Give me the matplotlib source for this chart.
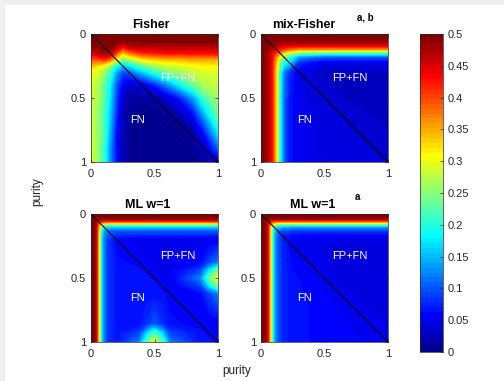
"""
Four error maps (Fisher, mix-Fisher, ML w=1) over purity x purity,
drawn as filled contours with a 64-colour jet map and a shared colourbar.
"""

import numpy as np
import matplotlib
matplotlib.use('Agg')
import matplotlib.pyplot as plt
from matplotlib.colors import ListedColormap, Normalize
from matplotlib.patches import Rectangle
from matplotlib.cm import ScalarMappable

plt.rcParams['font.family'] = ['Liberation Sans', 'DejaVu Sans']

# ---------------------------------------------------------------
# Data: values on a coarse (non-uniform) grid
# rows = purity on the vertical axis, columns = purity on the horizontal
# ---------------------------------------------------------------
fisher_nodes = [0, 0.05, 0.1, 0.15, 0.2, 0.25, 0.3, 0.4, 0.5, 0.6, 0.7, 0.8, 0.9, 1.0]
fisher_values = [
    [0.50, 0.50, 0.50, 0.50, 0.50, 0.50, 0.50, 0.50, 0.50, 0.50, 0.50, 0.50, 0.50, 0.50],
    [0.50, 0.50, 0.50, 0.50, 0.50, 0.49, 0.50, 0.50, 0.50, 0.50, 0.50, 0.50, 0.50, 0.50],
    [0.49, 0.49, 0.50, 0.50, 0.47, 0.43, 0.46, 0.47, 0.47, 0.47, 0.47, 0.47, 0.47, 0.47],
    [0.45, 0.46, 0.48, 0.47, 0.40, 0.33, 0.37, 0.41, 0.42, 0.43, 0.43, 0.43, 0.43, 0.43],
    [0.39, 0.39, 0.41, 0.38, 0.30, 0.24, 0.26, 0.31, 0.33, 0.34, 0.34, 0.35, 0.35, 0.35],
    [0.34, 0.32, 0.30, 0.25, 0.19, 0.15, 0.17, 0.22, 0.26, 0.28, 0.29, 0.30, 0.31, 0.31],
    [0.30, 0.29, 0.26, 0.21, 0.14, 0.09, 0.10, 0.15, 0.20, 0.24, 0.26, 0.28, 0.29, 0.29],
    [0.29, 0.27, 0.23, 0.18, 0.10, 0.05, 0.03, 0.04, 0.07, 0.12, 0.18, 0.23, 0.27, 0.28],
    [0.28, 0.27, 0.23, 0.17, 0.09, 0.03, 0.012, 0.008, 0.015, 0.035, 0.07, 0.13, 0.22, 0.26],
    [0.28, 0.26, 0.22, 0.16, 0.08, 0.025, 0.01, 0.005, 0.005, 0.01, 0.03, 0.07, 0.17, 0.24],
    [0.28, 0.26, 0.22, 0.15, 0.07, 0.02, 0.008, 0.005, 0.005, 0.005, 0.008, 0.03, 0.11, 0.21],
    [0.28, 0.26, 0.22, 0.14, 0.06, 0.02, 0.008, 0.005, 0.005, 0.005, 0.005, 0.01, 0.06, 0.16],
    [0.28, 0.26, 0.21, 0.13, 0.06, 0.02, 0.008, 0.005, 0.005, 0.005, 0.005, 0.005, 0.03, 0.10],
    [0.28, 0.26, 0.21, 0.13, 0.06, 0.02, 0.008, 0.005, 0.005, 0.005, 0.005, 0.005, 0.01, 0.03],
]

mix_nodes = [0, 0.03, 0.06, 0.09, 0.12, 0.15, 0.18, 0.22, 0.3, 0.5, 0.7, 1.0]
mix_values = [
    [0.50, 0.50, 0.50, 0.50, 0.50, 0.50, 0.50, 0.50, 0.50, 0.50, 0.50, 0.50],
    [0.50, 0.50, 0.50, 0.50, 0.50, 0.50, 0.50, 0.50, 0.50, 0.50, 0.50, 0.50],
    [0.50, 0.50, 0.50, 0.49, 0.49, 0.49, 0.48, 0.48, 0.48, 0.48, 0.48, 0.48],
    [0.50, 0.50, 0.49, 0.48, 0.47, 0.46, 0.45, 0.45, 0.44, 0.44, 0.44, 0.44],
    [0.50, 0.50, 0.48, 0.46, 0.44, 0.42, 0.40, 0.38, 0.36, 0.36, 0.36, 0.36],
    [0.50, 0.49, 0.47, 0.44, 0.40, 0.36, 0.32, 0.28, 0.23, 0.21, 0.21, 0.21],
    [0.50, 0.49, 0.47, 0.43, 0.36, 0.30, 0.25, 0.20, 0.13, 0.10, 0.10, 0.10],
    [0.50, 0.49, 0.47, 0.42, 0.34, 0.24, 0.20, 0.17, 0.08, 0.05, 0.05, 0.05],
    [0.50, 0.49, 0.47, 0.42, 0.32, 0.20, 0.12, 0.08, 0.045, 0.03, 0.03, 0.03],
    [0.50, 0.49, 0.47, 0.42, 0.32, 0.19, 0.11, 0.07, 0.05, 0.038, 0.03, 0.03],
    [0.50, 0.49, 0.47, 0.42, 0.32, 0.19, 0.11, 0.07, 0.05, 0.045, 0.038, 0.03],
    [0.50, 0.49, 0.47, 0.42, 0.32, 0.19, 0.11, 0.07, 0.05, 0.045, 0.045, 0.038],
]

ml_nodes = [0, 0.02, 0.04, 0.06, 0.08, 0.1, 0.13, 0.2, 0.38, 0.44, 0.5, 0.56, 0.62, 0.86, 0.93, 1.0]
ml_values = [
    [0.50, 0.50, 0.50, 0.50, 0.50, 0.50, 0.50, 0.50, 0.50, 0.50, 0.50, 0.50, 0.50, 0.50, 0.50, 0.50],
    [0.50, 0.50, 0.50, 0.50, 0.50, 0.50, 0.50, 0.50, 0.50, 0.50, 0.50, 0.50, 0.50, 0.50, 0.50, 0.50],
    [0.50, 0.50, 0.49, 0.48, 0.48, 0.48, 0.48, 0.48, 0.48, 0.48, 0.48, 0.48, 0.48, 0.48, 0.48, 0.48],
    [0.50, 0.50, 0.47, 0.42, 0.41, 0.40, 0.40, 0.40, 0.40, 0.40, 0.40, 0.40, 0.40, 0.40, 0.40, 0.40],
    [0.50, 0.50, 0.47, 0.38, 0.30, 0.27, 0.26, 0.26, 0.26, 0.26, 0.26, 0.26, 0.26, 0.26, 0.26, 0.26],
    [0.50, 0.50, 0.46, 0.36, 0.24, 0.19, 0.17, 0.16, 0.16, 0.16, 0.16, 0.16, 0.16, 0.16, 0.16, 0.16],
    [0.50, 0.50, 0.46, 0.34, 0.20, 0.14, 0.11, 0.10, 0.10, 0.10, 0.10, 0.10, 0.10, 0.10, 0.10, 0.10],
    [0.50, 0.50, 0.46, 0.33, 0.18, 0.12, 0.085, 0.058, 0.05, 0.05, 0.05, 0.05, 0.05, 0.05, 0.05, 0.05],
    [0.50, 0.50, 0.46, 0.33, 0.18, 0.12, 0.085, 0.065, 0.058, 0.05, 0.05, 0.05, 0.05, 0.06, 0.09, 0.12],
    [0.50, 0.50, 0.46, 0.33, 0.18, 0.12, 0.085, 0.065, 0.065, 0.058, 0.05, 0.05, 0.05, 0.09, 0.17, 0.24],
    [0.50, 0.50, 0.46, 0.33, 0.18, 0.12, 0.085, 0.065, 0.065, 0.065, 0.058, 0.05, 0.05, 0.12, 0.23, 0.30],
    [0.50, 0.50, 0.46, 0.33, 0.18, 0.12, 0.085, 0.065, 0.065, 0.065, 0.065, 0.058, 0.05, 0.09, 0.17, 0.24],
    [0.50, 0.50, 0.46, 0.33, 0.18, 0.12, 0.085, 0.065, 0.065, 0.065, 0.065, 0.065, 0.058, 0.06, 0.09, 0.12],
    [0.50, 0.50, 0.46, 0.33, 0.18, 0.12, 0.085, 0.065, 0.065, 0.08, 0.10, 0.08, 0.065, 0.058, 0.05, 0.05],
    [0.50, 0.50, 0.46, 0.33, 0.18, 0.12, 0.085, 0.065, 0.09, 0.16, 0.22, 0.16, 0.09, 0.065, 0.058, 0.05],
    [0.50, 0.50, 0.46, 0.33, 0.18, 0.12, 0.085, 0.065, 0.12, 0.23, 0.29, 0.23, 0.12, 0.065, 0.065, 0.058],
]

mla_nodes = [0, 0.02, 0.04, 0.06, 0.08, 0.1, 0.13, 0.17, 0.25, 0.5, 0.75, 1.0]
mla_values = [
    [0.50, 0.50, 0.50, 0.50, 0.50, 0.50, 0.50, 0.50, 0.50, 0.50, 0.50, 0.50],
    [0.50, 0.50, 0.50, 0.50, 0.50, 0.50, 0.50, 0.50, 0.50, 0.50, 0.50, 0.50],
    [0.50, 0.50, 0.49, 0.48, 0.47, 0.47, 0.47, 0.47, 0.47, 0.47, 0.47, 0.47],
    [0.50, 0.50, 0.48, 0.44, 0.41, 0.39, 0.38, 0.37, 0.37, 0.37, 0.37, 0.37],
    [0.50, 0.50, 0.48, 0.42, 0.33, 0.28, 0.25, 0.24, 0.23, 0.23, 0.23, 0.23],
    [0.50, 0.50, 0.48, 0.41, 0.29, 0.20, 0.16, 0.15, 0.14, 0.14, 0.14, 0.14],
    [0.50, 0.50, 0.48, 0.41, 0.27, 0.17, 0.11, 0.095, 0.085, 0.085, 0.085, 0.085],
    [0.50, 0.50, 0.48, 0.41, 0.27, 0.16, 0.10, 0.07, 0.06, 0.055, 0.055, 0.055],
    [0.50, 0.50, 0.48, 0.41, 0.27, 0.16, 0.10, 0.075, 0.05, 0.045, 0.04, 0.04],
    [0.50, 0.50, 0.48, 0.41, 0.27, 0.16, 0.10, 0.075, 0.065, 0.05, 0.04, 0.04],
    [0.50, 0.50, 0.48, 0.41, 0.27, 0.16, 0.10, 0.075, 0.065, 0.06, 0.05, 0.04],
    [0.50, 0.50, 0.48, 0.41, 0.27, 0.16, 0.10, 0.075, 0.065, 0.06, 0.055, 0.05],
]

panel_titles = ['Fisher', 'mix-Fisher', 'ML w=1', 'ML w=1']
panel_notes = ['', 'a, b', '', 'a']
region_labels = ['FP+FN', 'FN']
axis_label = 'purity'
axis_ticks = [0, 0.5, 1]
axis_ticklabels = ['0', '0.5', '1']
cbar_ticks = [0, 0.05, 0.1, 0.15, 0.2, 0.25, 0.3, 0.35, 0.4, 0.45, 0.5]
cbar_ticklabels = ['0', '0.05', '0.1', '0.15', '0.2', '0.25', '0.3', '0.35', '0.4', '0.45', '0.5']
value_range = (0.0, 0.5)


def matlab_jet(m=64):
    """Palette identical to MATLAB jet(m)."""
    n = int(np.ceil(m / 4))
    u = np.concatenate([np.arange(1, n + 1) / n, np.ones(n - 1), np.arange(n, 0, -1) / n])
    g = int(np.ceil(n / 2)) - (1 if m % 4 == 1 else 0) + np.arange(1, len(u) + 1)
    colors = np.zeros((m, 3))
    for idx, col in ((g + n, 0), (g, 1), (g - n, 2)):
        ok = (idx >= 1) & (idx <= m)
        colors[idx[ok] - 1, col] = u[ok]
    return ListedColormap(colors)


cmap = matlab_jet(64)
norm = Normalize(*value_range)
levels = np.linspace(value_range[0], value_range[1], 65)

TEXT_COLOR = '#262626'

fig = plt.figure(figsize=(5.04, 3.81), dpi=100)
fig.patch.set_facecolor('white')

# Light grey strips along the top and left edges
fig.patches.append(Rectangle((0, 1 - 5 / 381), 1, 5 / 381, transform=fig.transFigure,
                             facecolor='#f0f0f0', edgecolor='none', zorder=-1))
fig.patches.append(Rectangle((0, 0), 5 / 504, 1, transform=fig.transFigure,
                             facecolor='#f0f0f0', edgecolor='none', zorder=-1))

# Axes placement (pixels -> figure fraction)
W, H = 504, 381
panel_boxes = [(91, 34), (261, 34), (91, 214), (261, 214)]
panel_w, panel_h = 127, 128

panels = [
    (fisher_nodes, fisher_values),
    (mix_nodes, mix_values),
    (ml_nodes, ml_values),
    (mla_nodes, mla_values),
]
title_x = [0.47, 0.335, 0.45, 0.41]
note_x = [0, 0.82, 0, 0.76]
label_pos = [
    [(0.68, 0.34), (0.37, 0.67)],
    [(0.70, 0.34), (0.34, 0.67)],
    [(0.68, 0.33), (0.37, 0.66)],
    [(0.70, 0.33), (0.34, 0.66)],
]

for i, ((px, py), (nodes, values)) in enumerate(zip(panel_boxes, panels)):
    ax = fig.add_axes([px / W, 1 - (py + panel_h) / H, panel_w / W, panel_h / H])

    # Filled map
    ax.contourf(nodes, nodes, np.array(values), levels=levels, cmap=cmap, norm=norm,
                antialiased=False)

    # Diagonal purity_x = purity_y
    ax.plot(axis_ticks[::2], axis_ticks[::2], color='black', linewidth=0.8)

    ax.set_xlim(0, 1)
    ax.set_ylim(1, 0)
    ax.set_xticks(axis_ticks)
    ax.set_xticklabels(axis_ticklabels)
    ax.set_yticks(axis_ticks)
    ax.set_yticklabels(axis_ticklabels)
    ax.tick_params(direction='in', top=True, right=True, length=2, width=0.5,
                   labelsize=8, colors=TEXT_COLOR)
    ax.tick_params(axis='x', pad=5)
    ax.tick_params(axis='y', pad=3.5)
    for spine in ax.spines.values():
        spine.set_color(TEXT_COLOR)
        spine.set_linewidth(0.5)

    # Title plus optional superscript note
    ax.text(title_x[i], 1 + 5.5 / panel_h, panel_titles[i], transform=ax.transAxes,
            ha='center', va='baseline', fontsize=9, fontweight='bold', color='black')
    if panel_notes[i]:
        ax.text(note_x[i], 1 + 14 / panel_h, panel_notes[i], transform=ax.transAxes,
                ha='center', va='baseline', fontsize=7, fontweight='bold', color='black')

    # Region labels
    for text, (tx, ty) in zip(region_labels, label_pos[i]):
        ax.text(tx, ty, text, ha='center', va='center', fontsize=8, color='white')

# Colourbar
cax = fig.add_axes([420 / W, 1 - 352 / H, 23 / W, 318 / H])
cb = fig.colorbar(ScalarMappable(norm=norm, cmap=cmap), cax=cax)
cb.set_ticks(cbar_ticks)
cb.set_ticklabels(cbar_ticklabels)
cax.tick_params(direction='in', length=2, width=0.5, labelsize=8, colors=TEXT_COLOR, pad=3)
cb.outline.set_edgecolor(TEXT_COLOR)
cb.outline.set_linewidth(0.5)

# Shared axis labels
fig.text(237 / W, 1 - 371 / H, axis_label, ha='center', va='center', fontsize=8.5,
         color=TEXT_COLOR)
fig.text(37 / W, 1 - 192 / H, axis_label, ha='center', va='center', rotation=90,
         fontsize=8.5, color=TEXT_COLOR)

plt.savefig('out.png', dpi=100)
plt.close(fig)
